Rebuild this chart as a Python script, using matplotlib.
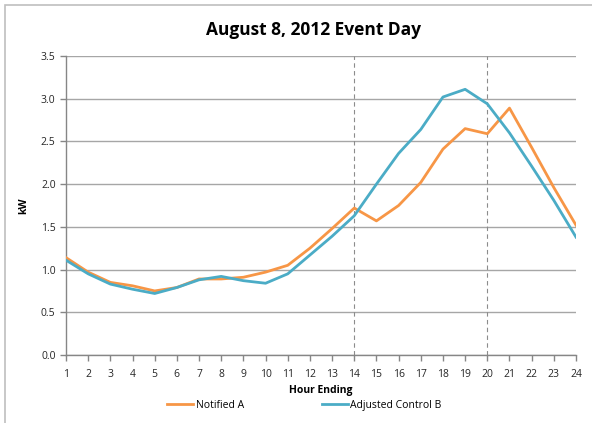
import matplotlib
matplotlib.use("Agg")
import matplotlib.pyplot as plt
from matplotlib.patches import Rectangle

hours = list(range(1, 25))
notified_a = [1.14, 0.97, 0.85, 0.81, 0.75, 0.79, 0.89, 0.89, 0.91, 0.97, 1.05, 1.25,
              1.48, 1.72, 1.57, 1.75, 2.02, 2.41, 2.65, 2.59, 2.89, 2.43, 1.96, 1.52]
control_b = [1.11, 0.95, 0.83, 0.77, 0.72, 0.79, 0.88, 0.92, 0.87, 0.84, 0.95, 1.17,
             1.39, 1.63, 2.00, 2.36, 2.64, 3.02, 3.11, 2.94, 2.60, 2.21, 1.81, 1.38]
event_bounds = [14, 20]
y_ticks = [0.0, 0.5, 1.0, 1.5, 2.0, 2.5, 3.0, 3.5]

plt.rcParams['font.family'] = ['Open Sans', 'DejaVu Sans']

fig = plt.figure(figsize=(5.92, 4.23), dpi=100)
fig.patches.append(Rectangle((5 / 592, -0.05), 1.2, 1 - 5 / 423 + 0.05,
                             transform=fig.transFigure, fill=False,
                             edgecolor='#bfbfbf', linewidth=1.2))

ax = fig.add_axes([66 / 592, 1 - 355 / 423, 510 / 592, 299 / 423])

ax.plot(hours, notified_a, color='#F79646', linewidth=2.0, label='Notified A', zorder=3)
ax.plot(hours, control_b, color='#4BACC6', linewidth=2.0, label='Adjusted Control B', zorder=4)

for xb in event_bounds:
    ax.axvline(xb, color='#8c8c8c', linestyle=(0, (4, 3)), linewidth=0.8, zorder=2)

ax.set_xlim(1, 24)
ax.set_ylim(0, 3.5)
ax.set_xticks(hours)
ax.set_yticks(y_ticks)
ax.set_yticklabels([f"{v:.1f}" for v in y_ticks])
ax.grid(axis='y', color='#a6a6a6', linewidth=1.0, zorder=1)
ax.set_axisbelow(True)

for side in ('top', 'right'):
    ax.spines[side].set_visible(False)
for side in ('left', 'bottom'):
    ax.spines[side].set_color('#868686')
    ax.spines[side].set_linewidth(1.0)

ax.tick_params(axis='both', colors='#868686', labelcolor='#262626', labelsize=7.5,
               length=4, width=1.0, direction='out')
ax.tick_params(axis='x', pad=6)

ax.set_xlabel('Hour Ending', fontsize=7.5, fontweight='bold', labelpad=4)
ax.set_ylabel('kW', fontsize=7.5, fontweight='bold', labelpad=8)

fig.text(0.53, 1 - 30 / 423, 'August 8, 2012 Event Day', ha='center', va='center',
         fontsize=12.5, fontweight='bold')

fig.legend(loc='center', bbox_to_anchor=(0.514, 1 - 405 / 423), ncol=2, frameon=False,
           fontsize=7.5, handlelength=2.5, columnspacing=7.5, handletextpad=0.2)

fig.savefig('out.png', dpi=100)
